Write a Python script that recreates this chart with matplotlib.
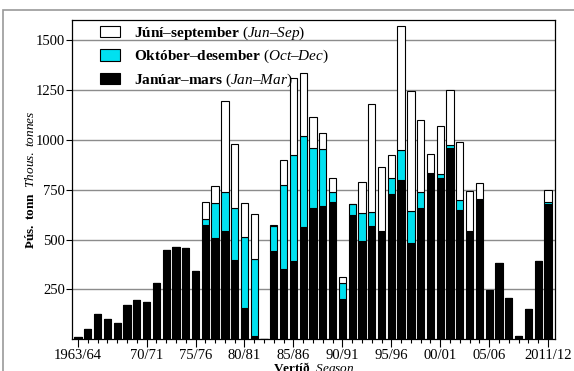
import matplotlib
matplotlib.use("Agg")
import matplotlib.pyplot as plt
import numpy as np
from matplotlib.patches import Rectangle, Patch

plt.rcParams['font.family'] = ['Liberation Serif', 'DejaVu Serif']
plt.rcParams['mathtext.fontset'] = 'custom'
plt.rcParams['mathtext.rm'] = 'Liberation Serif'
plt.rcParams['mathtext.it'] = 'Liberation Serif:italic'
plt.rcParams['mathtext.bf'] = 'Liberation Serif:bold'

# vertíðir 1963/64 - 2011/12
seasons = ["%d/%02d" % (y, (y + 1) % 100) for y in range(1963, 2012)]
tick_idx = [0, 7, 12, 17, 22, 27, 32, 37, 42, 48]
tick_lab = ["1963/64", "70/71", "75/76", "80/81", "85/86", "90/91",
            "95/96", "00/01", "05/06", "2011/12"]

# Janúar-mars
jan_mar = [12, 51, 126, 101, 81, 173, 195, 187, 280, 445,
           465, 460, 342, 575, 507, 543, 395, 158, 17, 0,
           442, 350, 393, 562, 658, 667, 688, 203, 622, 492,
           568, 545, 727, 798, 483, 660, 834, 808, 958, 650,
           545, 697, 243, 380, 207, 15, 153, 393, 680]
# Október-desember
okt_des = [0, 0, 0, 0, 0, 0, 0, 0, 0, 0,
           0, 0, 0, 30, 176, 195, 262, 357, 383, 0,
           128, 425, 530, 458, 300, 288, 50, 80, 56, 143,
           70, 0, 81, 149, 159, 80, 0, 18, 14, 47,
           0, 6, 4, 0, 0, 0, 0, 0, 7]
# Júní-september
jun_sep = [0, 0, 0, 0, 0, 0, 0, 0, 0, 0,
           0, 0, 0, 83, 84, 457, 323, 168, 227, 0,
           5, 122, 387, 315, 157, 80, 70, 30, 2, 153,
           540, 320, 117, 621, 601, 360, 97, 244, 276, 291,
           198, 82, 0, 0, 0, 0, 0, 0, 61]

x = np.arange(len(seasons))
jan = np.array(jan_mar)
okt = np.array(okt_des)
jun = np.array(jun_sep)

fig = plt.figure(figsize=(5.74, 3.71), dpi=100)
ax = fig.add_axes([72/574, 1-339.3/371, (555-72)/574, (339.3-20)/371])

# rammi utan um myndina
fig.patches.append(Rectangle((3/574, -0.2), 1.2, 1.2 - 10/371,
                             transform=fig.transFigure, fill=False,
                             edgecolor='#999999', lw=1.2))

w = 0.74
ax.bar(x, jan, w, color='black', edgecolor='black', lw=0.8, zorder=3)
ax.bar(x, okt, w, bottom=jan, color='#00E1F0', edgecolor='black', lw=0.8, zorder=3)
ax.bar(x, jun, w, bottom=jan+okt, color='white', edgecolor='black', lw=0.8, zorder=3)

ax.set_ylim(0, 1600)
ax.set_xlim(-0.62, 48.72)
ax.set_yticks([250, 500, 750, 1000, 1250, 1500])
ax.yaxis.grid(True, color='#8c8c8c', lw=1.0, zorder=0)
ax.set_axisbelow(True)
ax.set_xticks(tick_idx)
ax.set_xticklabels(tick_lab)
ax.set_xticks(x, minor=True)
ax.tick_params(axis='x', which='major', length=6, width=0.8, labelsize=10.5, pad=1)
ax.tick_params(axis='x', which='minor', length=3, width=0.8)
ax.tick_params(axis='y', length=4, width=0.8, labelsize=10.5, pad=1)
for s in ax.spines.values():
    s.set_linewidth(0.9)

ax.set_ylabel(r"$\bf{Þús.\ tonn}$  $\it{Thous.\ tonnes}$", fontsize=9.5, labelpad=-1)
ax.set_xlabel(r"$\bf{Vertíð}$  $\it{Season}$", fontsize=9.5, labelpad=-1)

handles = [Patch(facecolor='white', edgecolor='black', lw=0.8),
           Patch(facecolor='#00E1F0', edgecolor='black', lw=0.8),
           Patch(facecolor='black', edgecolor='black', lw=0.8)]
labels = [r"$\bf{Júní–september}$ $\it{(Jun–Sep)}$",
          r"$\bf{Október–desember}$ $\it{(Oct–Dec)}$",
          r"$\bf{Janúar–mars}$ $\it{(Jan–Mar)}$"]
ax.legend(handles, labels, loc='upper left', frameon=False, fontsize=11,
          bbox_to_anchor=(0.035, 1.02), handlelength=1.35, handleheight=0.75,
          labelspacing=0.42, handletextpad=0.9, borderaxespad=0.3)

fig.savefig("out.png", dpi=100)
